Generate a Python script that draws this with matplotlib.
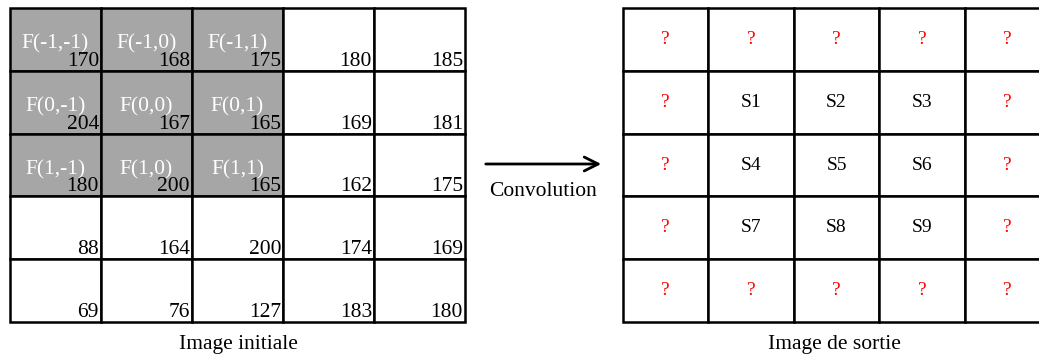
import numpy as np
import matplotlib.pyplot as plt
from matplotlib.patches import Rectangle

plt.rcParams['font.family'] = ['Liberation Serif', 'DejaVu Serif']

# input image values (5x5)
pixels = [
    [170, 168, 175, 180, 185],
    [204, 167, 165, 169, 181],
    [180, 200, 165, 162, 175],
    [88, 164, 200, 174, 169],
    [69, 76, 127, 183, 180],
]

# filter labels on the top-left 3x3 block
filter_labels = [
    ["F(-1,-1)", "F(-1,0)", "F(-1,1)"],
    ["F(0,-1)", "F(0,0)", "F(0,1)"],
    ["F(1,-1)", "F(1,0)", "F(1,1)"],
]

# output image labels
output_labels = [
    ["?", "?", "?", "?", "?"],
    ["?", "S1", "S2", "S3", "?"],
    ["?", "S4", "S5", "S6", "?"],
    ["?", "S7", "S8", "S9", "?"],
    ["?", "?", "?", "?", "?"],
]

W, H = 1039, 358
fig = plt.figure(figsize=(W / 100, H / 100), dpi=100)
ax = fig.add_axes([0, 0, 1, 1])
ax.set_xlim(0, W)
ax.set_ylim(H, 0)
ax.axis('off')

row_edges = np.linspace(8, 322, 6)
left_cols = np.linspace(10, 465, 6)
right_cols = np.linspace(623, 1050, 6)
fs = 15.5

# left grid
for i in range(5):
    for j in range(5):
        x0, x1 = left_cols[j], left_cols[j + 1]
        y0, y1 = row_edges[i], row_edges[i + 1]
        shaded = i < 3 and j < 3
        ax.add_patch(Rectangle((x0, y0), x1 - x0, y1 - y0,
                               facecolor='#a6a6a6' if shaded else 'white',
                               edgecolor='black', linewidth=1.8))
        ax.text(x1 - 2, y1 - 5, str(pixels[i][j]), ha='right', va='baseline',
                fontsize=fs, color='black')
        if shaded:
            ax.text((x0 + x1) / 2, y0 + 36, filter_labels[i][j], ha='center',
                    va='center', fontsize=fs, color='white')

# right grid
for i in range(5):
    for j in range(5):
        x0, x1 = right_cols[j], right_cols[j + 1]
        y0, y1 = row_edges[i], row_edges[i + 1]
        ax.add_patch(Rectangle((x0, y0), x1 - x0, y1 - y0, facecolor='white',
                               edgecolor='black', linewidth=1.8))
        lab = output_labels[i][j]
        ax.text((x0 + x1) / 2, (y0 + y1) / 2, lab, ha='center', va='center',
                fontsize=14, color='red' if lab == '?' else 'black')

# arrow
ax.annotate('', xy=(604, 164), xytext=(483, 164),
            arrowprops=dict(arrowstyle='->', lw=2, color='black',
                            mutation_scale=25))
ax.text(543, 192, 'Convolution', ha='center', va='center', fontsize=fs)

ax.text(238, 344, 'Image initiale', ha='center', va='center', fontsize=fs)
ax.text(834, 344, 'Image de sortie', ha='center', va='center', fontsize=fs)

fig.savefig('out.png', dpi=100)
